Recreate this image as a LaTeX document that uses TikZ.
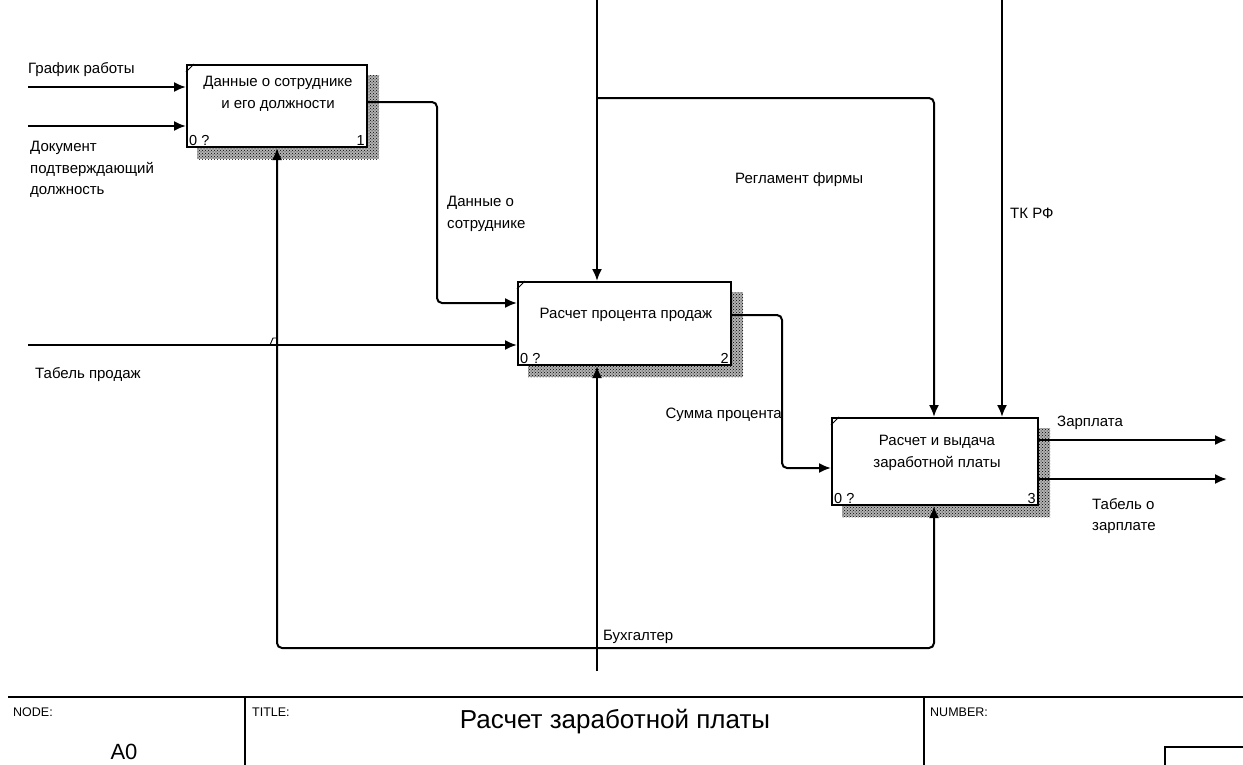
\documentclass[tikz,border=0pt]{standalone}
\usepackage{fontspec}
\setmainfont{Liberation Sans}
\usetikzlibrary{arrows.meta,patterns,backgrounds}
\begin{document}
\begin{tikzpicture}[x=1pt,y=-1pt,
  conn/.style={line width=2pt, rounded corners=5pt},
  arr/.style={conn, -{Latex[length=12pt,width=10pt]}},
  box/.style={draw, line width=2pt, fill=white, inner sep=0pt},
  shade/.style={preaction={fill=black!30}, pattern=crosshatch dots, pattern color=black},
  lbl/.style={font=\fontsize{15}{21.5}\selectfont, inner sep=0pt, align=left},
  ctr/.style={font=\fontsize{15}{22}\selectfont, inner sep=0pt, align=center},
  tag/.style={font=\fontsize{14.5}{16}\selectfont, inner sep=0pt},
  small/.style={font=\fontsize{12.5}{14}\selectfont, inner sep=0pt, anchor=west},
  frame/.style={line width=1.6pt}]
\useasboundingbox (0,0) rectangle (1243,764);

% activity boxes
\node[box, minimum width=180pt, minimum height=82pt] (b1) at (277,106) {};
\node[box, minimum width=213pt, minimum height=83pt] (b2) at (624.5,323.5) {};
\node[box, minimum width=206pt, minimum height=87pt] (b3) at (935,461.5) {};

% hatched drop shadows
\begin{scope}[on background layer]
  \foreach \b in {b1,b2,b3}
    \fill[shade] ([shift={(11,11)}]\b.north west) rectangle ([shift={(11,11)}]\b.south east);
\end{scope}

% corner marks
\foreach \b in {b1,b2,b3}
  \draw[line width=0.9pt] ([yshift=-8pt]\b.north west) -- ([xshift=8pt]\b.north west);

% box titles
\node[ctr] (b1t) at (278,94) {Данные о сотруднике\\и его должности};
\node[ctr] (b2t) at (626,315) {Расчет процента продаж};
\node[ctr] (b3t) at (937,453) {Расчет и выдача\\заработной платы};

% box numbers
\node[tag, anchor=south west] (b1c) at ([shift={(3,-2)}]b1.south west) {0 ?};
\node[tag, anchor=south east] (b1n) at ([shift={(-3,-2)}]b1.south east) {1};
\node[tag, anchor=south west] (b2c) at ([shift={(3,-2)}]b2.south west) {0 ?};
\node[tag, anchor=south east] (b2n) at ([shift={(-3,-2)}]b2.south east) {2};
\node[tag, anchor=south west] (b3c) at ([shift={(3,-2)}]b3.south west) {0 ?};
\node[tag, anchor=south east] (b3n) at ([shift={(-3,-2)}]b3.south east) {3};

% boundary and bend points
\coordinate (in1) at (28,87);
\coordinate (in2) at (28,126);
\coordinate (in3) at (28,345);
\coordinate (o1a) at (437,102);
\coordinate (o1b) at (437,303);
\coordinate (o2a) at (782,315);
\coordinate (o2b) at (782,468);
\coordinate (ctl) at (597,0);
\coordinate (ctlj) at (597,98);
\coordinate (ctlc) at (934,98);
\coordinate (tk) at (1002,0);
\coordinate (mech) at (597,671);
\coordinate (mj) at (597,648);
\coordinate (mL) at (277,648);
\coordinate (mR) at (934,648);
\coordinate (out1) at (1227,440);
\coordinate (out2) at (1227,479);

% inputs
\draw[arr] (in1) -- (in1 -| b1.west);
\draw[arr] (in2) -- (in2 -| b1.west);
\draw[arr] (in3) -- (in3 -| b2.west);
\draw[line width=0.9pt] (270,345) -- (273,338) -- (276,338);

% output of box 1 into box 2
\draw[arr] (o1a -| b1.east) -- (o1a) -- (o1b) -- (o1b -| b2.west);
% output of box 2 into box 3
\draw[arr] (o2a -| b2.east) -- (o2a) -- (o2b) -- (o2b -| b3.west);

% controls
\draw[arr] (ctl) -- (ctl |- b2.north);
\draw[arr] (ctlj) -- (ctlc) -- (ctlc |- b3.north);
\draw[arr] (tk) -- (tk |- b3.north);

% mechanisms
\draw[arr] (mech) -- (mech |- b2.south);
\draw[arr] (mj) -- (mL) -- (mL |- b1.south);
\draw[arr] (mj) -- (mR) -- (mR |- b3.south);

% outputs of box 3
\draw[arr] (out1 -| b3.east) -- (out1);
\draw[arr] (out2 -| b3.east) -- (out2);

% arrow labels
\node[lbl, anchor=west] (l1) at (28,70) {График работы};
\node[lbl, anchor=north west] (l2) at (30,141) {Документ\\подтверждающий\\должность};
\node[lbl, anchor=north west] (l3) at (447,196) {Данные о\\сотруднике};
\node[lbl, anchor=west] (l4) at (35,375) {Табель продаж};
\node[lbl, anchor=west] (l5) at (735,180) {Регламент фирмы};
\node[lbl, anchor=west] (l6) at (1010,213) {ТК РФ};
\node[lbl, anchor=east] (l7) at (782,415) {Сумма процента};
\node[lbl, anchor=west] (l8) at (1057,423) {Зарплата};
\node[lbl, anchor=north west] (l9) at (1092,498) {Табель о\\зарплате};
\node[lbl, anchor=west] (l10) at (603,637) {Бухгалтер};

% title block
\draw[line width=2.4pt] (8,697) -- (1260,697);
\draw[frame] (245,697) -- (245,780);
\draw[frame] (924,697) -- (924,780);
\draw[frame] (1165,747) rectangle (1270,790);
\node[small] (tbn) at (13,712) {NODE:};
\node[small] (tbt) at (252,712) {TITLE:};
\node[small] (tbu) at (930,712) {NUMBER:};
\node[font=\fontsize{26}{28}\selectfont, inner sep=0pt] (ttl) at (615,722) {Расчет заработной платы};
\node[font=\fontsize{22}{24}\selectfont, inner sep=0pt, anchor=north] (nd) at (124,744) {A0};
\end{tikzpicture}
\end{document}
